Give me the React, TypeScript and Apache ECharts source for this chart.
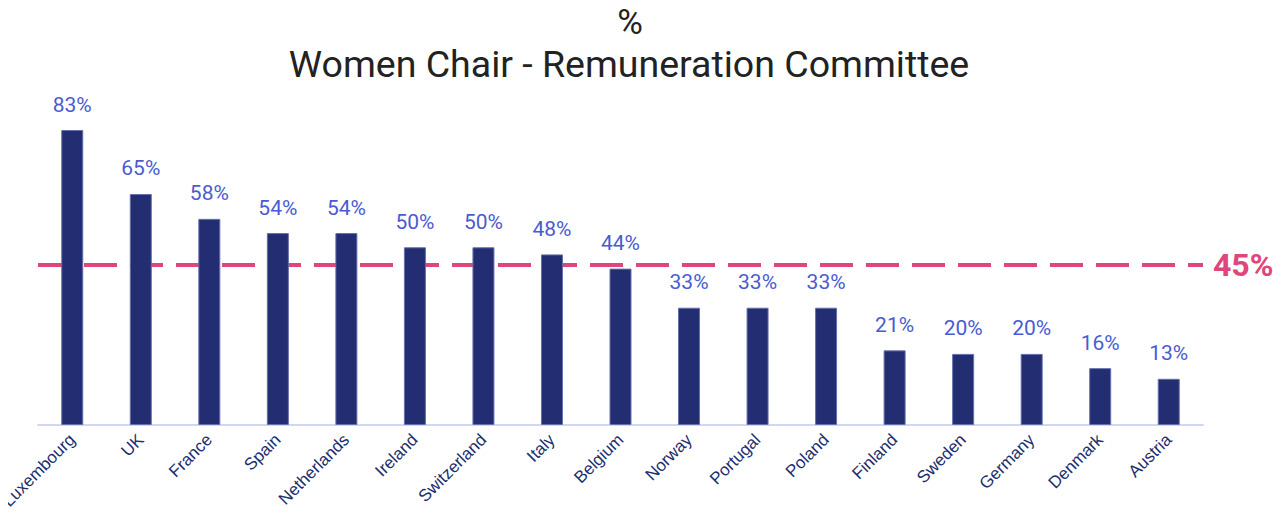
import React, { useEffect, useRef } from "react";
import * as echarts from "echarts";

const countries = ["Luxembourg", "UK", "France", "Spain", "Netherlands", "Ireland", "Switzerland", "Italy", "Belgium", "Norway", "Portugal", "Poland", "Finland", "Sweden", "Germany", "Denmark", "Austria"];
const values = [83, 65, 58, 54, 54, 50, 50, 48, 44, 33, 33, 33, 21, 20, 20, 16, 13];
const average = 45;
const unitTitle = "%";
const mainTitle = "Women Chair - Remuneration Committee";

export default function App() {
  const ref = useRef<HTMLDivElement>(null);
  useEffect(() => {
    if (!ref.current) return;
    const chart = echarts.init(ref.current, null, { renderer: "svg" });
    chart.setOption({
      animation: false,
      title: [
        {
          text: unitTitle,
          left: 622,
          textAlign: "center",
          top: 1,
          padding: 0,
          textStyle: { fontFamily: "Roboto", fontSize: 35, fontWeight: "normal", color: "#222", lineHeight: 26 },
        },
        {
          text: mainTitle,
          left: 621,
          textAlign: "center",
          top: 37,
          padding: 0,
          textStyle: { fontFamily: "Roboto", fontSize: 37.5, fontWeight: "normal", color: "#222" },
        },
      ],
      grid: { left: 30, right: 70, top: 122, height: 295, containLabel: false, outerBoundsMode: "none" },
      xAxis: {
        type: "category",
        data: countries,
        axisLine: { lineStyle: { color: "#d3d6f2", width: 2 } },
        axisTick: { show: false },
        axisLabel: { rotate: 45, interval: 0, fontFamily: "Liberation Sans", fontSize: 17, color: "#1b2f6e", margin: 12 },
      },
      yAxis: { type: "value", min: 0, max: 83, show: false, splitLine: { show: false } },
      series: [
        {
          type: "bar",
          data: values,
          barWidth: 22,
          z: 3,
          itemStyle: { color: "#222d72", borderColor: "#6670ad", borderWidth: 1 },
          label: {
            show: true,
            position: "top",
            distance: 15,
            formatter: "{c}%",
            fontFamily: "Roboto",
            fontSize: 21,
            color: "#4a5bd2",
          },
          markLine: {
            symbol: "none",
            silent: true,
            z: 1,
            data: [{ yAxis: average }],
            lineStyle: { color: "#e0457b", width: 4, type: [33, 13] },
            label: {
              show: true,
              position: "end",
              formatter: average + "%",
              fontFamily: "Roboto",
              fontWeight: "bold",
              fontSize: 32,
              color: "#e0457b",
              distance: 10,
            },
          },
        },
      ],
    });
    return () => chart.dispose();
  }, []);
  return <div ref={ref} style={{ width: 1265, height: 510 }} />;
}
